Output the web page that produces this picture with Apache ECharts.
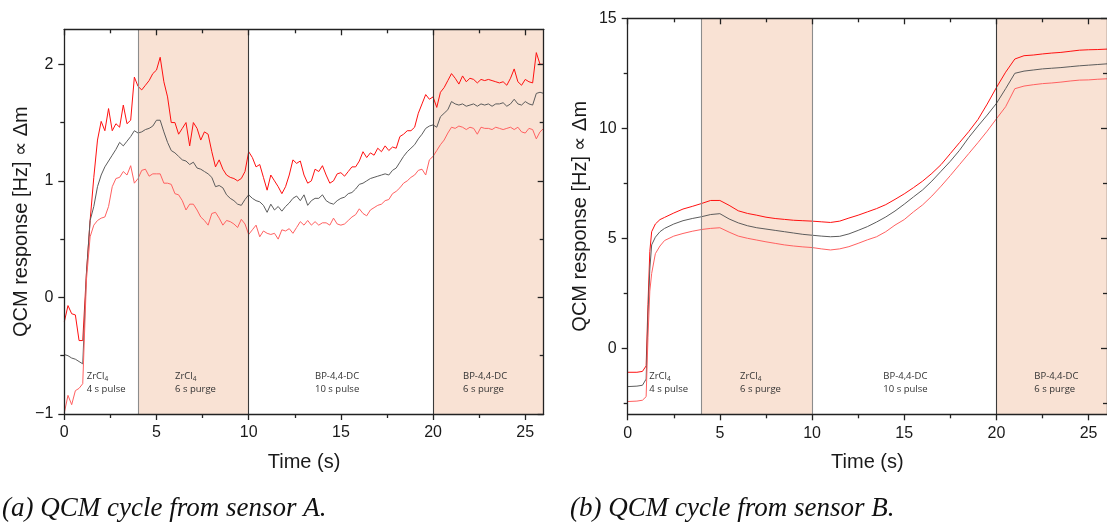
<!DOCTYPE html>
<html>
<head>
<meta charset="utf-8">
<script src="https://cdn.jsdelivr.net/npm/echarts@6/dist/echarts.min.js"></script>
<style>
html,body{margin:0;padding:0;background:#fff;}
#c{width:1107px;height:523px;}
</style>
</head>
<body>
<div id="c"></div>
<script>
// ---------- Data ----------
const timesA = [0,0.2,0.4,0.6,0.8,1,1.2,1.4,1.6,1.8,2,2.2,2.4,2.6,2.8,3,3.2,3.4,3.6,3.8,4,4.2,4.4,4.6,4.8,5,5.2,5.4,5.6,5.8,6,6.2,6.4,6.6,6.8,7,7.2,7.4,7.6,7.8,8,8.2,8.4,8.6,8.8,9,9.2,9.4,9.6,9.8,10,10.2,10.4,10.6,10.8,11,11.2,11.4,11.6,11.8,12,12.2,12.4,12.6,12.8,13,13.2,13.4,13.6,13.8,14,14.2,14.4,14.6,14.8,15,15.2,15.4,15.6,15.8,16,16.2,16.4,16.6,16.8,17,17.2,17.4,17.6,17.8,18,18.2,18.4,18.6,18.8,19,19.2,19.4,19.6,19.8,20,20.2,20.4,20.6,20.8,21,21.2,21.4,21.6,21.8,22,22.2,22.4,22.6,22.8,23,23.2,23.4,23.6,23.8,24,24.2,24.4,24.6,24.8,25,25.2,25.4,25.6,25.8,26];

const upperA = [-0.21,-0.07,-0.14,-0.15,-0.37,-0.37,
 0.21,0.66,1.03,1.35,1.51,1.43,1.62,1.43,1.49,1.46,
 1.65,1.49,1.52,1.89,1.81,1.78,1.82,1.86,1.92,1.95,
 2.06,1.85,1.72,1.5,1.5,1.4,1.45,1.5,1.3,1.5,
 1.45,1.35,1.42,1.4,1.25,1.12,1.18,1.1,1.05,1.03,
 1.02,1.0,1.02,1.08,1.25,1.2,1.12,1.14,1.03,0.92,
 1.05,1.0,0.95,0.89,0.95,1.05,1.18,1.15,1.17,1.05,
 0.98,1.0,1.1,1.08,1.13,1.05,0.98,1.0,1.06,1.07,
 1.04,1.08,1.12,1.12,1.17,1.25,1.2,1.24,1.22,1.28,
 1.25,1.3,1.26,1.29,1.28,1.38,1.40,1.43,1.43,1.46,
 1.58,1.66,1.74,1.7,1.72,1.63,1.76,1.8,1.86,1.92,
 1.88,1.83,1.9,1.85,1.88,1.87,1.84,1.87,1.86,1.87,
 1.86,1.85,1.84,1.85,1.82,1.88,1.96,1.85,1.82,1.87,
 1.85,1.84,2.1,2.0,2.0];

const meanA = [-0.49,-0.5,-0.52,-0.53,-0.55,-0.57,
 0.2,0.66,0.78,0.95,1.05,1.12,1.17,1.22,1.27,1.33,
 1.3,1.34,1.38,1.43,1.41,1.42,1.44,1.45,1.47,1.52,
 1.52,1.42,1.33,1.26,1.24,1.21,1.18,1.17,1.14,1.16,
 1.11,1.1,1.08,1.06,1.03,0.95,0.96,0.94,0.88,0.85,
 0.83,0.8,0.79,0.84,0.88,0.85,0.83,0.82,0.79,0.73,
 0.8,0.75,0.78,0.74,0.78,0.81,0.85,0.87,0.83,0.88,
 0.79,0.83,0.85,0.85,0.88,0.83,0.81,0.8,0.83,0.85,
 0.86,0.89,0.9,0.93,0.97,0.98,1.0,1.02,1.03,1.04,
 1.05,1.06,1.05,1.09,1.11,1.16,1.21,1.25,1.28,1.31,
 1.36,1.4,1.45,1.47,1.48,1.46,1.55,1.58,1.61,1.68,
 1.66,1.65,1.66,1.64,1.65,1.66,1.64,1.66,1.65,1.66,
 1.64,1.66,1.66,1.67,1.64,1.66,1.7,1.66,1.65,1.68,
 1.66,1.65,1.75,1.76,1.75];

const lowerA = [-0.99,-0.84,-0.92,-0.8,-0.78,-0.74,
 0.15,0.52,0.62,0.66,0.68,0.69,0.78,0.95,1.02,1.03,
 1.08,1.05,1.13,0.98,1.02,1.09,1.1,1.04,1.06,1.06,
 1.06,0.98,0.98,0.97,0.89,0.88,0.83,0.75,0.8,0.8,
 0.75,0.69,0.66,0.62,0.72,0.73,0.68,0.62,0.66,0.65,
 0.63,0.6,0.67,0.63,0.54,0.58,0.62,0.52,0.57,0.55,
 0.54,0.55,0.5,0.58,0.57,0.59,0.55,0.6,0.65,0.62,
 0.66,0.62,0.65,0.62,0.64,0.64,0.62,0.68,0.63,0.62,
 0.63,0.66,0.69,0.71,0.76,0.72,0.7,0.75,0.77,0.79,
 0.8,0.83,0.84,0.89,0.91,0.94,0.98,1.0,1.03,1.05,
 1.09,1.1,1.05,1.18,1.21,1.26,1.31,1.35,1.41,1.46,
 1.45,1.47,1.46,1.44,1.46,1.45,1.4,1.46,1.45,1.45,
 1.44,1.46,1.45,1.44,1.45,1.46,1.44,1.46,1.42,1.41,
 1.45,1.44,1.36,1.42,1.45];

const timesB = [0,0.5,0.8,0.9,1,1.1,1.2,1.3,1.5,1.75,2,2.5,3,3.5,4,4.5,5,5.5,6,6.5,7,7.5,8,8.5,9,9.5,10,10.5,11,11.5,12,12.5,13,13.5,14,14.5,15,15.5,16,16.5,17,17.5,18,18.5,19,19.5,20,20.5,21,21.5,22,22.5,23,23.5,24,24.5,25,25.5,26];

const upperB = [-1.09,-1.09,-1.05,-1.0,-0.8,2.0,4.4,5.3,5.65,5.85,
 5.95,6.15,6.33,6.45,6.58,6.72,6.72,6.5,6.25,6.13,
 6.05,5.96,5.9,5.86,5.82,5.8,5.78,5.75,5.72,5.78,
 5.92,6.05,6.2,6.35,6.53,6.77,7.02,7.3,7.6,7.95,
 8.35,8.85,9.35,9.85,10.4,11.1,11.85,12.55,13.15,13.3,
 13.33,13.38,13.42,13.45,13.5,13.55,13.57,13.58,13.6];

const meanB = [-1.74,-1.72,-1.68,-1.66,-1.4,1.5,3.6,4.7,5.05,5.3,
 5.45,5.65,5.8,5.9,5.98,6.08,6.12,5.88,5.7,5.57,
 5.48,5.42,5.36,5.3,5.24,5.18,5.14,5.1,5.07,5.09,
 5.2,5.36,5.53,5.74,5.97,6.24,6.55,6.88,7.2,7.6,
 8.05,8.5,9.0,9.58,10.1,10.6,11.13,11.8,12.5,12.6,
 12.65,12.7,12.73,12.76,12.8,12.84,12.87,12.9,12.93];

const lowerB = [-2.42,-2.4,-2.36,-2.34,-2.2,0.5,2.6,3.4,4.3,4.65,
 4.9,5.1,5.22,5.32,5.4,5.45,5.48,5.28,5.1,5.0,
 4.92,4.84,4.77,4.7,4.65,4.61,4.58,4.52,4.47,4.52,
 4.62,4.77,4.93,5.07,5.3,5.6,5.85,6.2,6.52,6.92,
 7.37,7.85,8.35,8.85,9.35,9.87,10.43,10.98,11.8,11.92,
 11.98,12.03,12.06,12.1,12.15,12.19,12.2,12.23,12.25];

const xMajorTicks = [0,5,10,15,20,25];
const xMinorTicks = [2.5,7.5,12.5,17.5,22.5];
const yMajorA = [-1,0,1,2];
const yMinorA = [-0.5,0.5,1.5];
const yMajorB = [0,5,10,15];
const yMinorB = [-2.5,2.5,7.5,12.5];
const purgeSpans = [[4,10],[20,26]];
const phaseLines = [4,10,20];
const phaseNotes = [
  {t:'ZrCl', sub:'4', l2:'4 s pulse'},
  {t:'ZrCl', sub:'4', l2:'6 s purge'},
  {t:'BP-4,4-DC', sub:'', l2:'10 s pulse'},
  {t:'BP-4,4-DC', sub:'', l2:'6 s purge'}
];
const yTitle = 'QCM response [Hz] \u221D \u0394m';
const xTitle = 'Time (s)';
const captions = ['(a) QCM cycle from sensor A.', '(b) QCM cycle from sensor B.'];

// ---------- Build ----------
const AX = '#222';
const pairs = (ts, vs) => ts.map((t, i) => [t, vs[i]]);
const FONT = 'Liberation Sans, Arial, sans-serif';
const fmt = v => String(v).replace('-', '\u2212');

function axis(g, pos, min, max, ticks, len, inside, labels, lineShow, extra) {
  const a = {
    type: 'value', gridIndex: g, position: pos, min: min, max: max, z: 10,
    axisLine: { show: lineShow, onZero: false, lineStyle: { color: AX, width: 1.3 } },
    axisTick: { show: true, customValues: ticks, length: len, inside: inside, lineStyle: { color: AX, width: 1.3 } },
    axisLabel: labels ? { show: true, customValues: labels, formatter: fmt, fontSize: 16, color: '#1a1a1a', fontFamily: FONT, margin: 11 } : { show: false },
    splitLine: { show: false },
    minorTick: { show: false }
  };
  return Object.assign(a, extra || {});
}

const grids = [
  { left: 64.3, top: 29.3, width: 479.4, height: 384.7, show: false },
  { left: 627.7, top: 18.3, width: 488.8, height: 396, show: false }
];

const xAxes = [], yAxes = [];
const yMin = [-1, -3], yMax = [2.3, 15];
const yMaj = [yMajorA, yMajorB], yMin2 = [yMinorA, yMinorB];
const yGap = [33, 37];
const mainX = [], mainY = [];
for (let g = 0; g < 2; g++) {
  mainX.push(xAxes.length);
  xAxes.push(axis(g, 'bottom', 0, 26, xMajorTicks, 6, false, xMajorTicks, true, {
    name: xTitle, nameLocation: 'middle', nameGap: 38,
    nameTextStyle: { fontSize: 20, color: '#1a1a1a', fontFamily: FONT }
  }));
  xAxes.push(axis(g, 'bottom', 0, 26, xMinorTicks, 4, false, null, false));
  xAxes.push(axis(g, 'top', 0, 26, xMajorTicks, 6, true, null, true));
  xAxes.push(axis(g, 'top', 0, 26, xMinorTicks, 4, true, null, false));
  mainY.push(yAxes.length);
  yAxes.push(axis(g, 'left', yMin[g], yMax[g], yMaj[g], 6, false, yMaj[g], true, {
    name: yTitle, nameLocation: 'middle', nameGap: yGap[g], nameRotate: 90,
    nameTextStyle: { fontSize: 20, color: '#1a1a1a', fontFamily: FONT }
  }));
  yAxes.push(axis(g, 'left', yMin[g], yMax[g], yMin2[g], 4, false, null, false));
  yAxes.push(axis(g, 'right', yMin[g], yMax[g], yMaj[g], 6, true, null, true));
  yAxes.push(axis(g, 'right', yMin[g], yMax[g], yMin2[g], 4, true, null, false));
}

const lineColors = ['#ff1010', '#5c5c5c', '#ff6060'];
const lineCol = [['#8c8c8c', '#3a3a3a', '#3a3a3a'], ['#8c8c8c', '#8c8c8c', '#3a3a3a']];
const dataSets = [[upperA, meanA, lowerA], [upperB, meanB, lowerB]];
const timeSets = [timesA, timesB];

const series = [];
for (let g = 0; g < 2; g++) {
  series.push({
    type: 'line', xAxisIndex: mainX[g], yAxisIndex: mainY[g], data: [], silent: true, z: 1,
    markArea: {
      silent: true,
      itemStyle: { color: '#f9e2d4' },
      data: purgeSpans.map(s => [{ xAxis: s[0] }, { xAxis: s[1] }])
    },
    markLine: {
      silent: true, symbol: 'none', label: { show: false },
      data: phaseLines.map((v, i) => ({ xAxis: v, lineStyle: { color: lineCol[g][i], width: 1.1, type: 'solid' } }))
    }
  });
  for (let k = 0; k < 3; k++) {
    series.push({
      type: 'line', xAxisIndex: mainX[g], yAxisIndex: mainY[g], z: 3,
      data: pairs(timeSets[g], dataSets[g][k]),
      showSymbol: false, symbol: 'none', silent: true,
      lineStyle: { color: lineColors[k], width: 1 },
      clip: true
    });
  }
}

const noteX = [[86.7, 175, 315, 463], [649.3, 740, 883.3, 1034.3]];
const graphic = [];
for (let g = 0; g < 2; g++) {
  phaseNotes.forEach((n, i) => {
    const text = n.sub ? '{m|' + n.t + '}{s|' + n.sub + '}\n{m|' + n.l2 + '}' : '{m|' + n.t + '}\n{m|' + n.l2 + '}';
    graphic.push({
      type: 'text', left: noteX[g][i], top: 371, silent: true, z: 100,
      style: {
        text: text,
        rich: {
          m: { fontSize: 9.5, fontFamily: 'Open Sans, sans-serif', fill: '#333', lineHeight: 13.5 },
          s: { fontSize: 6.5, fontFamily: 'Open Sans, sans-serif', fill: '#333', lineHeight: 8, verticalAlign: 'bottom' }
        }
      }
    });
  });
}
graphic.push({ type: 'text', left: 2, top: 495, silent: true, z: 100,
  style: { text: captions[0], font: 'italic 27px "Liberation Serif", serif', fill: '#111' } });
graphic.push({ type: 'text', left: 570, top: 495, silent: true, z: 100,
  style: { text: captions[1], font: 'italic 27px "Liberation Serif", serif', fill: '#111' } });

const chart = echarts.init(document.getElementById('c'), null, { renderer: 'canvas' });
chart.setOption({
  animation: false,
  backgroundColor: '#ffffff',
  grid: grids,
  xAxis: xAxes,
  yAxis: yAxes,
  series: series,
  graphic: graphic
});
</script>
</body>
</html>
